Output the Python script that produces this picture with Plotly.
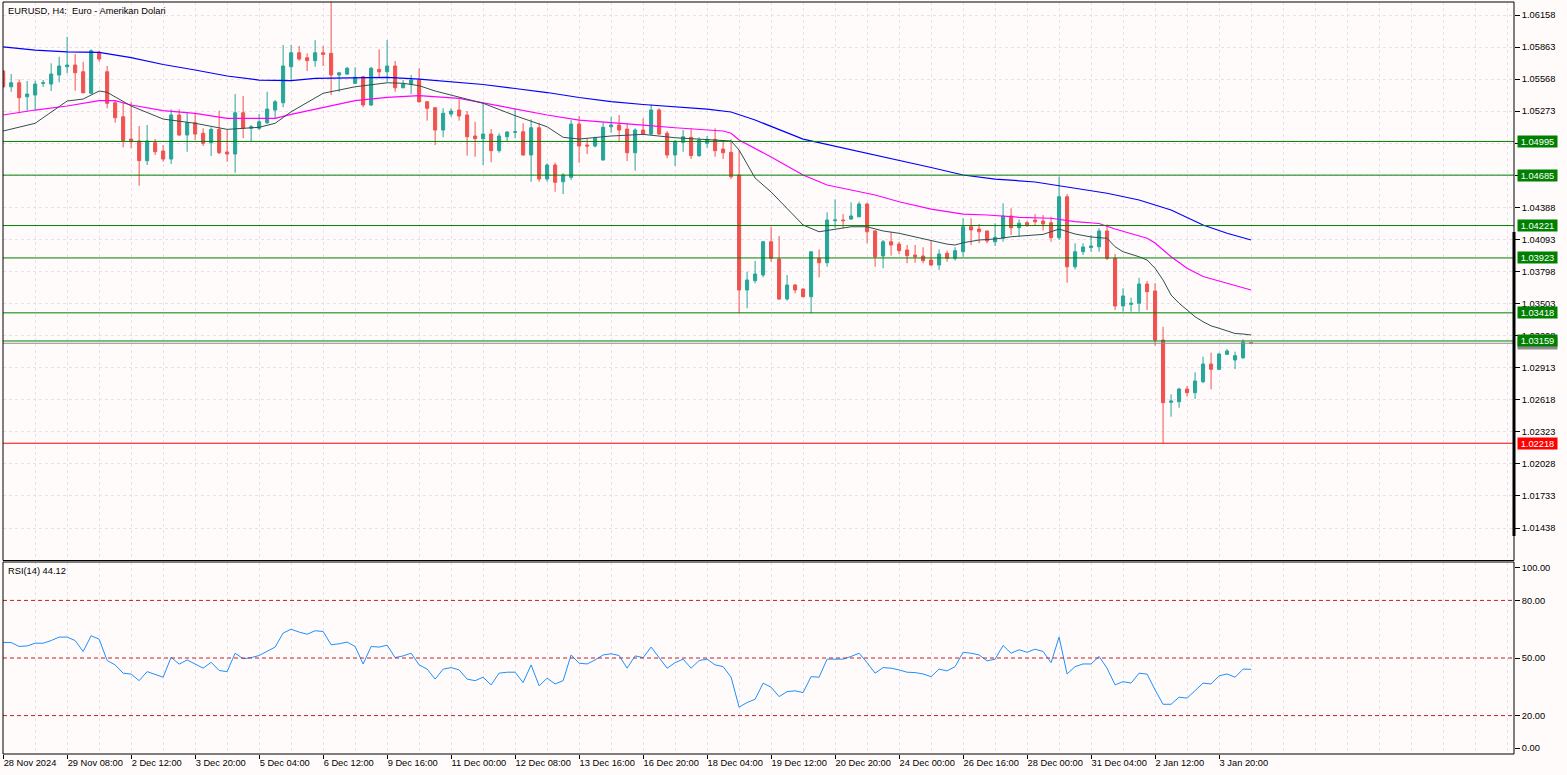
import plotly.graph_objects as go

# ---------------- data ----------------
time_labels = ["28 Nov 2024", "29 Nov 08:00", "2 Dec 12:00", "3 Dec 20:00", "5 Dec 04:00",
               "6 Dec 12:00", "9 Dec 16:00", "11 Dec 00:00", "12 Dec 08:00", "13 Dec 16:00",
               "16 Dec 20:00", "18 Dec 04:00", "19 Dec 12:00", "20 Dec 20:00", "24 Dec 00:00",
               "26 Dec 16:00", "28 Dec 00:00", "31 Dec 04:00", "2 Jan 12:00", "3 Jan 20:00"]
label_bars = [0, 8, 16, 24, 32, 40, 48, 56, 64, 72, 80, 88, 96, 104, 112, 120, 128, 136, 144, 152]

opens = [1.05643, 1.05498, 1.05535, 1.05406, 1.05422, 1.05530, 1.05523, 1.05606, 1.05682, 1.05698,
         1.05636, 1.05438, 1.05815, 1.05636, 1.05351, 1.05222, 1.05017, 1.04999, 1.04818, 1.04983,
         1.04907, 1.04833, 1.05238, 1.05054, 1.05167, 1.05070, 1.04983, 1.05106, 1.04898, 1.04879,
         1.05259, 1.05116, 1.05116, 1.05167, 1.05284, 1.05351, 1.05682, 1.05811, 1.05765, 1.05738,
         1.05811, 1.05806, 1.05606, 1.05615, 1.05530, 1.05590, 1.05330, 1.05658, 1.05636, 1.05689,
         1.05489, 1.05523, 1.05560, 1.05360, 1.05305, 1.05100, 1.05247, 1.05284, 1.05238, 1.05045,
         1.05020, 1.05063, 1.04910, 1.05038, 1.05079, 1.05084, 1.04870, 1.05121, 1.04649, 1.04778,
         1.04624, 1.04665, 1.05155, 1.04962, 1.04953, 1.04824, 1.05130, 1.05146, 1.05109, 1.04891,
         1.05100, 1.05063, 1.05284, 1.05070, 1.04870, 1.04987, 1.05033, 1.04864, 1.04978, 1.05014,
         1.04925, 1.04895, 1.04686, 1.03628, 1.03714, 1.03766, 1.04072, 1.03913, 1.03545, 1.03674,
         1.03637, 1.03566, 1.03920, 1.03879, 1.04266, 1.04272, 1.04281, 1.04302, 1.04419, 1.04171,
         1.03941, 1.04072, 1.04051, 1.03996, 1.03950, 1.03941, 1.03904, 1.03858, 1.03966, 1.03920,
         1.03980, 1.04210, 1.04189, 1.04171, 1.04072, 1.04104, 1.04309, 1.04201, 1.04247, 1.04272,
         1.04263, 1.04247, 1.04109, 1.04486, 1.03842, 1.03980, 1.04019, 1.04026, 1.04171, 1.03920,
         1.03481, 1.03496, 1.03506, 1.03683, 1.03619, 1.03168, 1.02595, 1.02600, 1.02717, 1.02683,
         1.02784, 1.02947, 1.02898, 1.03036, 1.02984, 1.03005, 1.03143]
highs = [1.05652, 1.05615, 1.05566, 1.05551, 1.05554, 1.05560, 1.05714, 1.05774, 1.05958, 1.05799,
         1.05728, 1.05842, 1.05830, 1.05689, 1.05367, 1.05351, 1.05360, 1.05137, 1.05146, 1.05017,
         1.04962, 1.05290, 1.05290, 1.05268, 1.05254, 1.05116, 1.05125, 1.05278, 1.05100, 1.05431,
         1.05413, 1.05146, 1.05247, 1.05452, 1.05376, 1.05882, 1.05882, 1.05873, 1.05806, 1.05928,
         1.05873, 1.06278, 1.05627, 1.05682, 1.05677, 1.05597, 1.05682, 1.05842, 1.05928, 1.05735,
         1.05560, 1.05606, 1.05668, 1.05367, 1.05312, 1.05300, 1.05300, 1.05382, 1.05275, 1.05176,
         1.05355, 1.05109, 1.05070, 1.05088, 1.05300, 1.05162, 1.05198, 1.05167, 1.04794, 1.04799,
         1.04702, 1.05192, 1.05229, 1.05024, 1.05038, 1.05176, 1.05222, 1.05238, 1.05162, 1.05116,
         1.05208, 1.05336, 1.05300, 1.05091, 1.05008, 1.05100, 1.05116, 1.05033, 1.05045, 1.05116,
         1.04992, 1.05014, 1.04916, 1.03796, 1.03895, 1.04079, 1.04210, 1.04125, 1.03766, 1.03683,
         1.03644, 1.03980, 1.04002, 1.04343, 1.04462, 1.04327, 1.04435, 1.04440, 1.04431, 1.04180,
         1.04088, 1.04164, 1.04072, 1.04042, 1.04042, 1.04021, 1.04088, 1.04002, 1.03990, 1.04021,
         1.04288, 1.04288, 1.04235, 1.04174, 1.04242, 1.04426, 1.04380, 1.04278, 1.04263, 1.04327,
         1.04318, 1.04302, 1.04670, 1.04511, 1.04058, 1.04058, 1.04134, 1.04196, 1.04232, 1.03959,
         1.03644, 1.03557, 1.03741, 1.03711, 1.03690, 1.03290, 1.02668, 1.02729, 1.02745, 1.02871,
         1.03014, 1.03051, 1.03051, 1.03085, 1.03060, 1.03174, 1.03145]
lows = [1.05486, 1.05452, 1.05254, 1.05278, 1.05284, 1.05498, 1.05459, 1.05539, 1.05622, 1.05462,
        1.05438, 1.05431, 1.05728, 1.05300, 1.05167, 1.04941, 1.04932, 1.04588, 1.04778, 1.04870,
        1.04808, 1.04787, 1.05045, 1.04900, 1.05008, 1.04953, 1.04861, 1.04879, 1.04808, 1.04707,
        1.05024, 1.04992, 1.05100, 1.05155, 1.05208, 1.05309, 1.05560, 1.05738, 1.05643, 1.05682,
        1.05689, 1.05422, 1.05450, 1.05606, 1.05523, 1.05309, 1.05321, 1.05576, 1.05544, 1.05452,
        1.05484, 1.05431, 1.05351, 1.05186, 1.04962, 1.05033, 1.05222, 1.05186, 1.04864, 1.04854,
        1.04778, 1.04803, 1.04891, 1.04992, 1.05024, 1.04865, 1.04624, 1.04624, 1.04624, 1.04532,
        1.04511, 1.04640, 1.04799, 1.04879, 1.04941, 1.04820, 1.05075, 1.04992, 1.04815, 1.04726,
        1.05054, 1.05054, 1.05054, 1.04840, 1.04769, 1.04900, 1.04833, 1.04854, 1.04937, 1.04854,
        1.04833, 1.04649, 1.03414, 1.03460, 1.03690, 1.03745, 1.03888, 1.03536, 1.03530, 1.03598,
        1.03561, 1.03414, 1.03745, 1.03842, 1.04196, 1.04196, 1.04272, 1.04297, 1.04058, 1.03842,
        1.03828, 1.03944, 1.03959, 1.03874, 1.03879, 1.03874, 1.03849, 1.03812, 1.03888, 1.03898,
        1.03934, 1.04042, 1.04058, 1.04058, 1.04033, 1.04072, 1.04134, 1.04118, 1.04210, 1.04226,
        1.04174, 1.04072, 1.04088, 1.03695, 1.03818, 1.03950, 1.03978, 1.03980, 1.03904, 1.03444,
        1.03428, 1.03428, 1.03428, 1.03444, 1.03116, 1.02218, 1.02462, 1.02545, 1.02646, 1.02625,
        1.02770, 1.02714, 1.02892, 1.03030, 1.02901, 1.02993, 1.03136]
closes = [1.05498, 1.05535, 1.05397, 1.05431, 1.05523, 1.05535, 1.05615, 1.05689, 1.05698, 1.05627,
          1.05443, 1.05830, 1.05753, 1.05346, 1.05213, 1.05002, 1.04992, 1.04818, 1.04999, 1.04900,
          1.04833, 1.05238, 1.05054, 1.05167, 1.05063, 1.04978, 1.05106, 1.04891, 1.04879, 1.05259,
          1.05116, 1.05130, 1.05176, 1.05293, 1.05360, 1.05689, 1.05811, 1.05753, 1.05738, 1.05811,
          1.05796, 1.05606, 1.05627, 1.05668, 1.05585, 1.05330, 1.05668, 1.05636, 1.05689, 1.05489,
          1.05523, 1.05560, 1.05360, 1.05300, 1.05100, 1.05254, 1.05275, 1.05229, 1.05038, 1.05020,
          1.05063, 1.04910, 1.05045, 1.05082, 1.05084, 1.04870, 1.05121, 1.04649, 1.04778, 1.04619,
          1.04686, 1.05155, 1.04953, 1.04953, 1.05024, 1.05125, 1.05146, 1.05100, 1.04891, 1.05100,
          1.05063, 1.05284, 1.05063, 1.04870, 1.04992, 1.05038, 1.04864, 1.05008, 1.05014, 1.04910,
          1.04891, 1.04670, 1.03628, 1.03720, 1.03775, 1.04072, 1.03920, 1.03545, 1.03674, 1.03628,
          1.03566, 1.03980, 1.03879, 1.04272, 1.04272, 1.04266, 1.04309, 1.04419, 1.04164, 1.03934,
          1.04072, 1.04042, 1.03990, 1.03944, 1.03934, 1.03898, 1.03858, 1.03959, 1.03920, 1.03990,
          1.04210, 1.04180, 1.04164, 1.04079, 1.04113, 1.04309, 1.04201, 1.04242, 1.04220, 1.04256,
          1.04235, 1.04109, 1.04486, 1.03842, 1.03980, 1.04024, 1.04033, 1.04171, 1.03920, 1.03481,
          1.03573, 1.03506, 1.03683, 1.03612, 1.03168, 1.02591, 1.02607, 1.02717, 1.02683, 1.02791,
          1.02947, 1.02898, 1.03039, 1.03067, 1.03024, 1.03147, 1.03138]
bars = list(range(len(opens)))

# moving averages read at sampled bars
ma_fast_bars = [0, 4, 8, 10, 12, 13, 16, 20, 24, 28, 32, 34, 36, 40, 44, 48, 50, 52, 54, 57,
                60, 64, 68, 70, 72, 76, 80, 84, 88, 91, 92, 94, 96, 98, 100, 102, 104, 106, 108, 110,
                112, 116, 118, 119, 120, 122, 124, 126, 128, 130, 132, 134, 136, 138, 139, 140, 142, 143, 144, 145,
                146, 147, 148, 149, 150, 151, 152, 153, 154, 155, 156]
ma_fast_vals = [1.05091, 1.05162, 1.05367, 1.05385, 1.05459, 1.05447, 1.05321, 1.05201, 1.05162, 1.05106,
                1.05125, 1.05162, 1.05268, 1.05438, 1.05498, 1.05535, 1.05530, 1.05508, 1.05459, 1.05406,
                1.05346, 1.05232, 1.05130, 1.05033, 1.05017, 1.05045, 1.05060, 1.05029, 1.05008, 1.04999,
                1.04916, 1.04658, 1.04530, 1.04382, 1.04226, 1.04164, 1.04189, 1.04210, 1.04210, 1.04171,
                1.04150, 1.04088, 1.04050, 1.04042, 1.04063, 1.04088, 1.04097, 1.04118, 1.04128, 1.04140,
                1.04189, 1.04143, 1.04116, 1.04104, 1.04026, 1.03980, 1.03934, 1.03904, 1.03828, 1.03720,
                1.03582, 1.03506, 1.03444, 1.03382, 1.03336, 1.03298, 1.03276, 1.03252, 1.03228, 1.03223,
                1.03214]
ma_mid_bars = [0, 4, 8, 12, 14, 16, 20, 24, 28, 32, 34, 36, 40, 44, 48, 52, 57, 60, 64, 68,
               72, 76, 80, 84, 88, 90, 91, 92, 96, 100, 103, 106, 109, 112, 116, 120, 123, 127, 131, 134,
               137, 139, 141, 143, 144, 146, 148, 150, 153, 156]
ma_mid_vals = [1.05238, 1.05284, 1.05321, 1.05370, 1.05370, 1.05330, 1.05278, 1.05254, 1.05208, 1.05204,
               1.05208, 1.05244, 1.05309, 1.05370, 1.05401, 1.05416, 1.05392, 1.05351, 1.05290, 1.05238,
               1.05192, 1.05171, 1.05146, 1.05121, 1.05100, 1.05091, 1.05070, 1.05008, 1.04852, 1.04686,
               1.04594, 1.04548, 1.04502, 1.04440, 1.04373, 1.04327, 1.04318, 1.04297, 1.04288, 1.04258,
               1.04240, 1.04189, 1.04150, 1.04104, 1.04060, 1.03934, 1.03828, 1.03752, 1.03690, 1.03628]
ma_slow_bars = [0, 4, 8, 12, 16, 20, 24, 28, 32, 36, 39, 44, 48, 52, 56, 60, 64, 68, 72, 76,
                80, 84, 88, 91, 94, 100, 104, 108, 112, 116, 120, 124, 129, 132, 135, 138, 142, 146, 150, 153,
                156]
ma_slow_vals = [1.05866, 1.05836, 1.05820, 1.05815, 1.05767, 1.05703, 1.05652, 1.05597, 1.05560, 1.05555,
                1.05576, 1.05581, 1.05585, 1.05569, 1.05544, 1.05519, 1.05482, 1.05445, 1.05399, 1.05362,
                1.05335, 1.05312, 1.05293, 1.05266, 1.05192, 1.05017, 1.04953, 1.04888, 1.04824, 1.04755,
                1.04686, 1.04649, 1.04622, 1.04589, 1.04557, 1.04518, 1.04456, 1.04364, 1.04226, 1.04150,
                1.04088]

rsi_vals = [58.1, 58.1, 56.0, 56.3, 57.7, 57.7, 59.1, 60.9, 60.9, 59.1,
            53.4, 61.6, 59.8, 48.7, 46.4, 42.1, 41.6, 38.2, 42.9, 41.6,
            40.0, 50.4, 46.8, 49.0, 46.9, 44.7, 47.8, 43.5, 42.9, 52.5,
            49.6, 50.2, 51.3, 53.7, 55.7, 63.0, 65.0, 63.5, 62.4, 64.2,
            63.8, 56.9, 57.4, 58.3, 56.0, 46.9, 56.0, 55.7, 56.7, 50.2,
            51.1, 52.5, 46.4, 44.2, 39.0, 44.2, 45.0, 43.8, 39.0, 38.2,
            40.0, 36.0, 42.1, 42.6, 42.6, 37.2, 46.4, 35.5, 39.5, 36.5,
            38.2, 51.6, 47.3, 46.9, 49.0, 51.6, 52.2, 51.3, 44.7, 51.1,
            50.2, 55.7, 50.2, 44.7, 47.6, 49.4, 44.7, 48.7, 49.4, 46.4,
            45.5, 40.0, 24.4, 26.8, 28.5, 36.9, 34.8, 29.9, 32.5, 32.9,
            32.0, 40.3, 40.0, 49.4, 49.4, 49.4, 50.8, 52.5, 47.6, 42.1,
            45.0, 44.7, 43.8, 42.6, 42.4, 41.7, 40.3, 44.2, 43.3, 45.5,
            53.0, 52.5, 51.6, 48.5, 49.4, 56.5, 52.5, 54.3, 53.0, 54.6,
            53.4, 47.6, 60.9, 41.7, 45.5, 46.9, 46.9, 50.8, 44.7, 36.0,
            37.7, 36.9, 42.1, 41.6, 33.4, 25.9, 25.9, 29.6, 29.1, 32.9,
            36.9, 36.5, 40.7, 41.7, 40.0, 44.2, 44.12]

green_levels = [1.04995, 1.04685, 1.04221, 1.03923, 1.03418, 1.03159]
red_level = 1.02218
bid_price = 1.03138
price_ticks = [1.01438, 1.01733, 1.02028, 1.02323, 1.02618, 1.02913, 1.03208, 1.03503, 1.03798,
               1.04093, 1.04388, 1.04683, 1.04978, 1.05273, 1.05568, 1.05863, 1.06158]
hidden_ticks = [1.04683, 1.04978]   # covered by the level labels in the original
rsi_levels = [80, 50, 20]
rsi_tick_pos = [97.2, 80, 50, 20, 3.1]
rsi_tick_text = ["100.00", "80.00", "50.00", "20.00", "0.00"]
title_text = "EURUSD, H4:  Euro - Amerikan Dolari"
rsi_text = "RSI(14) 44.12"

# ---------------- style ----------------
BG = "#fffbfa"
GRID = "#e6e1ea"
FONT = "Liberation Sans"
FS = 9.3
MAIN_DOM = [0.2573, 1.0]
RSI_DOM = [0.0, 0.2553]

fig = go.Figure()
fig.add_trace(go.Candlestick(
    x=bars, open=opens, high=highs, low=lows, close=closes,
    increasing=dict(line=dict(color="#26a69a", width=1), fillcolor="#26a69a"),
    decreasing=dict(line=dict(color="#ef5350", width=1), fillcolor="#ef5350"),
    whiskerwidth=0, xaxis="x", yaxis="y", showlegend=False))
fig.add_trace(go.Scatter(x=ma_slow_bars, y=ma_slow_vals, mode="lines",
                         line=dict(color="#0000ff", width=1.2), xaxis="x", yaxis="y"))
fig.add_trace(go.Scatter(x=ma_mid_bars, y=ma_mid_vals, mode="lines",
                         line=dict(color="#ff00ff", width=1.2), xaxis="x", yaxis="y"))
fig.add_trace(go.Scatter(x=ma_fast_bars, y=ma_fast_vals, mode="lines",
                         line=dict(color="#2f4f4f", width=1), xaxis="x", yaxis="y"))
fig.add_trace(go.Scatter(x=bars, y=rsi_vals, mode="lines",
                         line=dict(color="#1e90ff", width=1), xaxis="x", yaxis="y2"))

shapes = []
for lv in green_levels:
    shapes.append(dict(type="line", xref="paper", x0=0, x1=1, yref="y", y0=lv, y1=lv,
                       line=dict(color="#008000", width=1)))
shapes.append(dict(type="line", xref="paper", x0=0, x1=1, yref="y", y0=bid_price, y1=bid_price,
                   line=dict(color="#8c8c8c", width=1)))
shapes.append(dict(type="line", xref="paper", x0=0, x1=1, yref="y", y0=red_level, y1=red_level,
                   line=dict(color="#ff0000", width=1)))
for lv in rsi_levels:
    shapes.append(dict(type="line", xref="paper", x0=0, x1=1, yref="y2", y0=lv, y1=lv,
                       line=dict(color="#c41e2a", width=1, dash="4px,3px")))
# pane frames
shapes.append(dict(type="rect", xref="paper", yref="paper", x0=0, x1=1, y0=MAIN_DOM[0], y1=MAIN_DOM[1],
                   line=dict(color="black", width=1)))
shapes.append(dict(type="rect", xref="paper", yref="paper", x0=0, x1=1, y0=RSI_DOM[0], y1=RSI_DOM[1],
                   line=dict(color="black", width=1)))
# thick scale marker at right edge
shapes.append(dict(type="line", xref="paper", x0=1, x1=1, yref="y", y0=1.04162, y1=1.01365,
                   line=dict(color="black", width=3)))

annotations = [
    dict(xref="paper", yref="paper", x=0, y=1, xanchor="left", yanchor="top", xshift=3, yshift=-2,
         text=title_text, showarrow=False, font=dict(family=FONT, size=FS, color="black")),
    dict(xref="paper", yref="paper", x=0, y=RSI_DOM[1], xanchor="left", yanchor="top", xshift=3, yshift=-2,
         text=rsi_text, showarrow=False, font=dict(family=FONT, size=FS, color="black")),
    dict(xref="paper", yref="y", x=1, y=bid_price, xanchor="left", xshift=3, text="",
         showarrow=False, bgcolor="#8c8c8c", width=39, height=11, borderpad=0),
]
for lv in green_levels:
    annotations.append(dict(xref="paper", yref="y", x=1, y=lv, xanchor="left", xshift=3,
                            text=f"{lv:.5f}", showarrow=False, bgcolor="#008000",
                            width=39, height=11, borderpad=0,
                            font=dict(family=FONT, size=FS, color="white")))
annotations.append(dict(xref="paper", yref="y", x=1, y=red_level, xanchor="left", xshift=3,
                        text=f"{red_level:.5f}", showarrow=False, bgcolor="#ff0000",
                        width=39, height=11, borderpad=0,
                        font=dict(family=FONT, size=FS, color="white")))

fig.update_layout(
    width=1567, height=775, margin=dict(l=3, r=53, t=2, b=21, autoexpand=False),
    paper_bgcolor=BG, plot_bgcolor=BG, showlegend=False,
    font=dict(family=FONT, size=FS, color="black"),
    boxgap=0.45,
    shapes=shapes, annotations=annotations,
    xaxis=dict(domain=[0, 1], anchor="y2", range=[-0.02, 188.87], automargin=False,
               tickmode="array", tickvals=label_bars, ticktext=time_labels, tickangle=0,
               ticks="outside", ticklen=4, tickcolor="black", ticklabelposition="outside right",
               showgrid=True, gridcolor=GRID, griddash="3px,3px", gridwidth=1,
               minor=dict(tickmode="array", tickvals=list(range(0, 189, 4)), showgrid=True,
                          gridcolor=GRID, griddash="3px,3px", ticks=""),
               rangeslider=dict(visible=False), zeroline=False, showline=False),
    yaxis=dict(domain=MAIN_DOM, anchor="x", side="right", range=[1.01139, 1.06278], automargin=False,
               tickmode="array", tickvals=price_ticks,
               ticktext=["" if v in hidden_ticks else f"{v:.5f}" for v in price_ticks],
               ticks="outside", ticklen=5, tickcolor="black",
               showgrid=True, gridcolor=GRID, griddash="3px,3px", zeroline=False, showline=False),
    yaxis2=dict(domain=RSI_DOM, anchor="x", side="right", range=[0, 100], automargin=False,
                tickmode="array", tickvals=rsi_tick_pos, ticktext=rsi_tick_text,
                ticks="outside", ticklen=5, tickcolor="black",
                showgrid=False, zeroline=False, showline=False),
)

fig.write_html("out.html")
